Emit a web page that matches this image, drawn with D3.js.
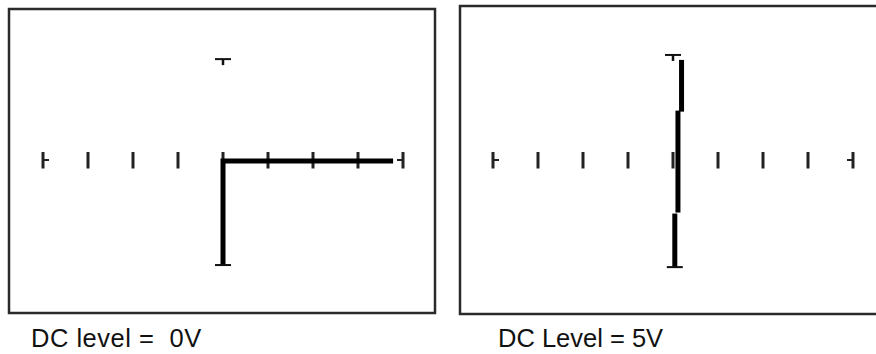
<!DOCTYPE html>
<html>
<head>
<meta charset="utf-8">
<script src="https://cdn.jsdelivr.net/npm/d3@7"></script>
<style>
  body { margin: 0; background: #fff; }
  svg { display: block; }
  .label { font-family: "Liberation Sans", Arial, sans-serif; font-size: 25.5px; fill: #111; white-space: pre; }
</style>
</head>
<body>
<svg id="chart" width="876" height="354"></svg>
<script>
// graticule divisions along the centre line
var tickDivs = [-4, -3, -2, -1, 0, 1, 2, 3, 4];

// left screen: trace points in divisions (x, y)
var leftTrace = [[3.78, -0.04], [0, -0.04], [0, -4.04]];
var leftTopMarker = [0, 3.88];
var leftBottomMarker = [0, -4.04];
var leftLabel = "DC level =  0V";

// right screen: trace drawn as three short steps
var rightTrace = [
    [[0.19, 3.85], [0.19, 1.86]],
    [[0.11, 1.9], [0.11, -2.02]],
    [[0.04, -2.06], [0.04, -4.12]]
];
var rightTopMarker = [0, 4.04];
var rightBottomMarker = [0.04, -4.12];
var rightLabel = "DC Level = 5V";

var svg = d3.select("#chart");

var y = d3.scaleLinear().domain([-4, 4]).range([264, 56]);

function screen(opts) {
    var x = d3.scaleLinear().domain([-4, 4]).range(opts.range);
    var g = svg.append("g");

    // frame
    g.append("rect")
        .attr("x", opts.frame[0])
        .attr("y", opts.frame[1])
        .attr("width", opts.frame[2])
        .attr("height", opts.frame[3])
        .attr("fill", "none")
        .attr("stroke", "#2a2a2a")
        .attr("stroke-width", 2.5);

    // centre line ticks
    g.selectAll("line.tick")
        .data(tickDivs)
        .enter()
        .append("line")
        .attr("class", "tick")
        .attr("x1", function(d) { return x(d); })
        .attr("x2", function(d) { return x(d); })
        .attr("y1", y(0) - 8)
        .attr("y2", y(0) + 8.5)
        .attr("stroke", "#222")
        .attr("stroke-width", 3);

    // end stubs  |-  and  -|
    g.selectAll("line.stub")
        .data([-4, 4])
        .enter()
        .append("line")
        .attr("class", "stub")
        .attr("x1", function(d) { return x(d); })
        .attr("x2", function(d) { return x(d) - Math.sign(d) * 6; })
        .attr("y1", y(0))
        .attr("y2", y(0))
        .attr("stroke", "#222")
        .attr("stroke-width", 2);

    // trace
    var line = d3.line()
        .x(function(d) { return x(d[0]); })
        .y(function(d) { return y(d[1]); });

    g.selectAll("path.trace")
        .data(opts.trace)
        .enter()
        .append("path")
        .attr("class", "trace")
        .attr("d", line)
        .attr("fill", "none")
        .attr("stroke", "#000")
        .attr("stroke-width", 5)
        .attr("stroke-linejoin", "miter")
        .attr("stroke-linecap", "butt");

    // markers: T on top, inverted T at the bottom
    var mt = opts.top, mb = opts.bottom;
    g.append("line")
        .attr("x1", x(mt[0]) - 8).attr("x2", x(mt[0]) + 8)
        .attr("y1", y(mt[1])).attr("y2", y(mt[1]))
        .attr("stroke", "#111").attr("stroke-width", 2);
    g.append("line")
        .attr("x1", x(mt[0])).attr("x2", x(mt[0]))
        .attr("y1", y(mt[1])).attr("y2", y(mt[1]) + 6)
        .attr("stroke", "#111").attr("stroke-width", 2.5);
    g.append("line")
        .attr("x1", x(mb[0]) - 8).attr("x2", x(mb[0]) + 8)
        .attr("y1", y(mb[1])).attr("y2", y(mb[1]))
        .attr("stroke", "#111").attr("stroke-width", 2);

    // caption
    svg.append("text")
        .attr("class", "label")
        .attr("x", opts.labelX)
        .attr("y", 347)
        .attr("letter-spacing", opts.spacing)
        .text(opts.label);
}

screen({
    range: [43, 403],
    frame: [9, 9, 426, 304],
    trace: [leftTrace],
    top: leftTopMarker,
    bottom: leftBottomMarker,
    label: leftLabel,
    labelX: 31,
    spacing: 0.5
});

screen({
    range: [493, 853],
    frame: [460, 6, 430, 308],
    trace: rightTrace,
    top: rightTopMarker,
    bottom: rightBottomMarker,
    label: rightLabel,
    labelX: 498,
    spacing: 0
});
</script>
</body>
</html>
